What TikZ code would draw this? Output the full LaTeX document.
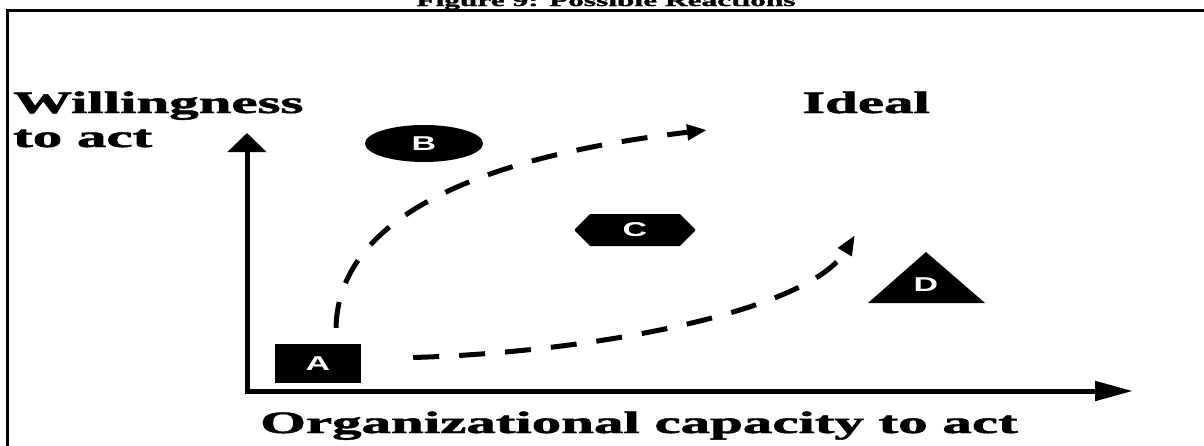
\documentclass[tikz,border=0pt]{standalone}
\usepackage{fontspec}
\setmainfont{Liberation Serif}[BoldFeatures={FakeBold=1.5}]
\newfontfamily\shapefont{Liberation Sans}
\usetikzlibrary{arrows.meta,shapes.geometric,shapes.misc}
\newcommand{\wide}[2][1.9]{\scalebox{#1}[1]{#2}}
\tikzset{
	axislabel/.style={font=\bfseries\fontsize{31}{31}\selectfont, inner sep=0pt, anchor=base west},
	reaction/.style={fill=black, text=white, inner sep=0pt, font=\shapefont\bfseries\fontsize{20}{20}\selectfont},
	flow/.style={line width=5pt, dash pattern=on 26pt off 20pt, -{Triangle[length=20pt,width=15pt]}},
}
\begin{document}
\begin{tikzpicture}[x=1pt,y=-1pt]
				\useasboundingbox (0,0) rectangle (1204,445);
				\draw[line width=3pt] (7,10) rectangle (1215,460);
				\node[font=\bfseries\fontsize{16.5}{16.5}\selectfont, inner sep=0pt, anchor=base] (title) at (606,6) {\wide{Figure 9: Possible Reactions}};
				% axes
				\coordinate (O) at (247,391);
				\coordinate (ytip) at (247,133);
				\coordinate (xtip) at (1133,391);
				\draw[line width=5pt, {Triangle[length=19pt,width=38pt]}-{Triangle[length=38pt,width=19pt]}] (ytip) -- (O) -- (xtip);
				\node[axislabel] (will) at (13,113) {\wide{Willingness}};
				\node[axislabel] (toact) at (13,147) {\wide{to act}};
				\node[axislabel] (ideal) at (802,113) {\wide{Ideal}};
				\node[axislabel] (capacity) at (260,433) {\wide{Organizational capacity to act}};
				% reactions
				\node[reaction, rectangle, minimum width=86pt, minimum height=39pt] (A) at (318,363.5) {\wide[1.7]{A}};
				\node[reaction, ellipse, minimum width=118pt, minimum height=37pt] (B) at (424,143.5) {\wide[1.7]{B}};
				\node[reaction, chamfered rectangle, chamfered rectangle xsep=10pt, chamfered rectangle ysep=8pt, minimum width=120pt, minimum height=32pt] (C) at (635,230) {\wide[1.7]{C}};
				\fill (868,303) -- (985,303) -- (926,252) -- cycle;
				\node[reaction, fill=none] (D) at (926,285) {\wide[1.7]{D}};
				% paths
				\coordinate (upper) at (707,130);
				\coordinate (lower) at (855,235);
				\draw[flow] ([xshift=18pt,yshift=16pt]A.north) .. controls (338,230) and (450,160) .. (upper);
				\draw[flow] ([xshift=52pt,yshift=6pt]A.east) .. controls (600,352) and (810,310) .. (lower);
			\end{tikzpicture}
\end{document}
